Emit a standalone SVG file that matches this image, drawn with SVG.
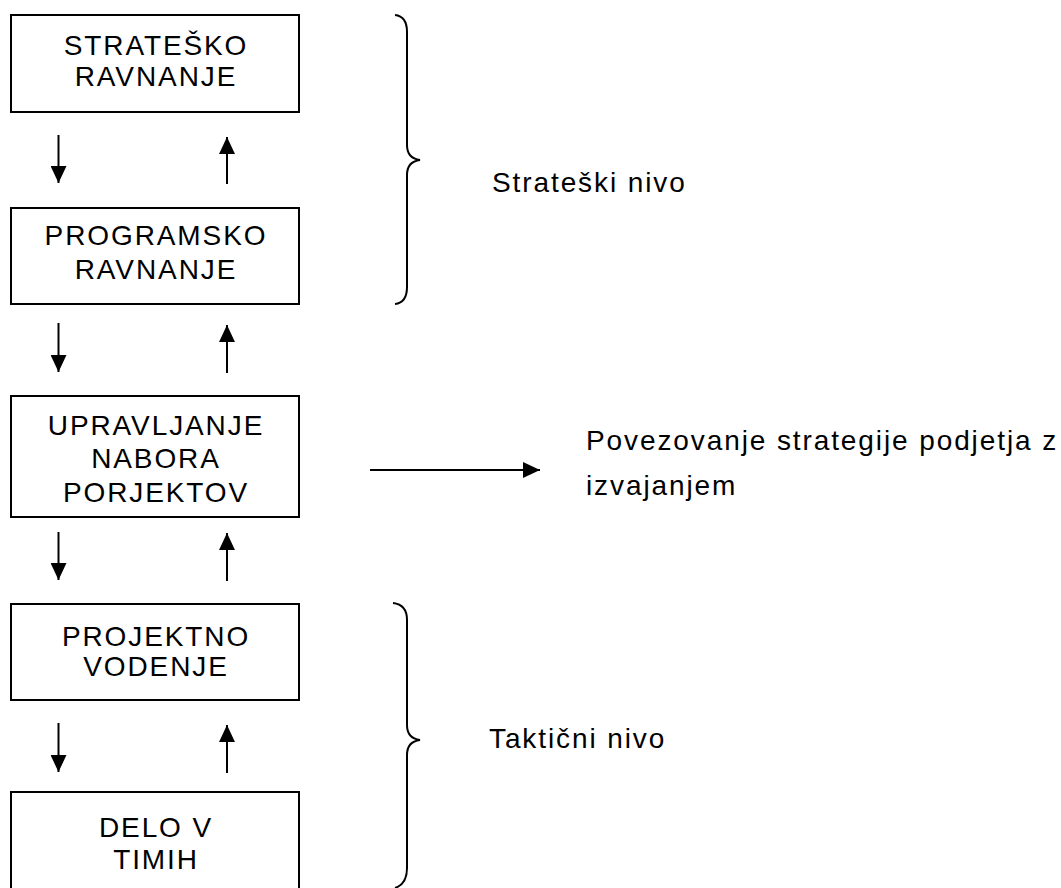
<svg xmlns="http://www.w3.org/2000/svg" width="1061" height="888" viewBox="0 0 1061 888">
  <style>
    .box { fill: #fff; stroke: #000; stroke-width: 2; }
    .lbl { font-family: "Liberation Sans", Arial, sans-serif; font-size: 28px; letter-spacing: 1.9px; fill: #000; }
    .mid { text-anchor: middle; }
    .conn { stroke: #000; stroke-width: 2; fill: none; }
    .brace { stroke: #000; stroke-width: 2; fill: none; }
  </style>
  <defs>
    <marker id="head" markerUnits="userSpaceOnUse" markerWidth="18" markerHeight="16" refX="17" refY="8" orient="auto">
      <path d="M0,0 L17,8 L0,16 Z" fill="#000"/>
    </marker>
  </defs>
  <rect width="1061" height="888" fill="#fff"/>

  <g id="strategic-planning">
    <rect class="box" x="11" y="15" width="288" height="97"/>
    <text class="lbl mid" x="156" y="55">STRATEŠKO</text>
    <text class="lbl mid" x="156" y="86">RAVNANJE</text>
  </g>
  <g id="program-planning">
    <rect class="box" x="11" y="208" width="288" height="96"/>
    <text class="lbl mid" x="156" y="245">PROGRAMSKO</text>
    <text class="lbl mid" x="156" y="279">RAVNANJE</text>
  </g>
  <g id="portfolio-management">
    <rect class="box" x="11" y="396" width="288" height="121"/>
    <text class="lbl mid" x="156" y="435">UPRAVLJANJE</text>
    <text class="lbl mid" x="156" y="468">NABORA</text>
    <text class="lbl mid" x="156" y="502">PORJEKTOV</text>
  </g>
  <g id="project-management">
    <rect class="box" x="11" y="604" width="288" height="96"/>
    <text class="lbl mid" x="156" y="646">PROJEKTNO</text>
    <text class="lbl mid" x="156" y="676">VODENJE</text>
  </g>
  <g id="team-work">
    <rect class="box" x="11" y="792" width="288" height="100"/>
    <text class="lbl mid" x="156" y="837">DELO V</text>
    <text class="lbl mid" x="156" y="869">TIMIH</text>
  </g>

  <g id="connectors">
    <line class="conn" x1="58.5" y1="135" x2="58.5" y2="183" marker-end="url(#head)"/>
    <line class="conn" x1="227" y1="184" x2="227" y2="137" marker-end="url(#head)"/>
    <line class="conn" x1="58.5" y1="323" x2="58.5" y2="372" marker-end="url(#head)"/>
    <line class="conn" x1="227" y1="373" x2="227" y2="325" marker-end="url(#head)"/>
    <line class="conn" x1="58.5" y1="532" x2="58.5" y2="580" marker-end="url(#head)"/>
    <line class="conn" x1="227" y1="581" x2="227" y2="533" marker-end="url(#head)"/>
    <line class="conn" x1="58.5" y1="723" x2="58.5" y2="772" marker-end="url(#head)"/>
    <line class="conn" x1="227" y1="773" x2="227" y2="725" marker-end="url(#head)"/>
    <line class="conn" x1="370" y1="470" x2="540" y2="470" marker-end="url(#head)"/>
  </g>

  <g id="strategic-level">
    <path class="brace" d="M395,15 C404,16 407,22 407,32 L407,145 C407,154 412,159 420,160 C412,161 407,166 407,175 L407,287 C407,297 404,303 395,304"/>
    <text class="lbl" x="492" y="192">Strateški nivo</text>
  </g>
  <g id="tactical-level">
    <path class="brace" d="M393,603 C402,604 407,610 407,620 L407,725 C407,734 412,739 420,740 C412,741 407,746 407,755 L407,868 C407,878 404,885 395,888"/>
    <text class="lbl" x="489" y="748">Taktični nivo</text>
  </g>
  <g id="alignment-note">
    <text class="lbl" x="586" y="450">Povezovanje strategije podjetja z</text>
    <text class="lbl" x="586" y="495">izvajanjem</text>
  </g>
</svg>
